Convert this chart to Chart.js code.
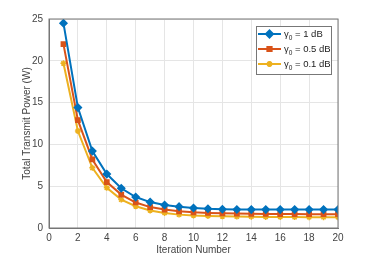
<!DOCTYPE html>
<html>
<head>
<meta charset="utf-8">
<script src="https://cdn.jsdelivr.net/npm/chart.js@4/dist/chart.umd.min.js"></script>
<style>
  html, body { margin: 0; padding: 0; background: #fff; }
  #wrap { width: 374px; height: 256px; }
</style>
</head>
<body>
<div id="wrap"><canvas id="grafico" width="374" height="256"></canvas></div>
<script>
// ==============================
// DADOS
// ==============================
const iteracoes = [1, 2, 3, 4, 5, 6, 7, 8, 9, 10, 11, 12, 13, 14, 15, 16, 17, 18, 19, 20];
const gama1 = [24.5, 14.4, 9.2, 6.45, 4.75, 3.7, 3.1, 2.75, 2.55, 2.4, 2.3, 2.25, 2.22, 2.2, 2.2, 2.2, 2.2, 2.2, 2.2, 2.2];
const gama05 = [22.0, 12.9, 8.2, 5.5, 4.0, 3.05, 2.5, 2.2, 2.0, 1.88, 1.8, 1.75, 1.72, 1.7, 1.68, 1.67, 1.66, 1.65, 1.65, 1.65];
const gama01 = [19.7, 11.6, 7.2, 4.8, 3.4, 2.6, 2.1, 1.8, 1.6, 1.5, 1.45, 1.4, 1.37, 1.35, 1.33, 1.32, 1.31, 1.3, 1.3, 1.3];
const rotulos = ["1 dB", "0.5 dB", "0.1 dB"];
const xTicks = [0, 2, 4, 6, 8, 10, 12, 14, 16, 18, 20];
const yTicks = [0, 5, 10, 15, 20, 25];

const cores = ["#0072BD", "#D95319", "#EDB120"];
const marcadores = ["rectRot", "rect", "star"];
const FONTE = "'Liberation Sans', Arial, sans-serif";

function serie(valores, i) {
  return {
    label: "γ0 = " + rotulos[i],
    data: iteracoes.map((x, k) => ({ x: x, y: valores[k] })),
    borderColor: cores[i],
    backgroundColor: cores[i],
    borderWidth: 2,
    pointStyle: marcadores[i],
    pointRadius: i === 0 ? 3.5 : 3,
    pointBorderWidth: 1.5,
    tension: 0
  };
}

// ==============================
// LEGENDA (com subscrito)
// ==============================
const legendaMatlab = {
  id: "legendaMatlab",
  afterDraw(chart) {
    const ctx = chart.ctx;
    const ca = chart.chartArea;
    const w = 75, h = 48;
    const x0 = ca.right - 7 - w, y0 = ca.top + 7;
    ctx.save();
    ctx.fillStyle = "#fff";
    ctx.fillRect(x0, y0, w, h);
    ctx.strokeStyle = "#777";
    ctx.lineWidth = 1;
    ctx.strokeRect(x0 + 0.5, y0 + 0.5, w, h);
    chart.data.datasets.forEach((ds, i) => {
      const y = y0 + 8 + i * 15;
      ctx.strokeStyle = ds.borderColor;
      ctx.lineWidth = 2;
      ctx.beginPath();
      ctx.moveTo(x0 + 2, y);
      ctx.lineTo(x0 + 25, y);
      ctx.stroke();
      Chart.helpers.drawPoint(ctx, {
        pointStyle: ds.pointStyle, radius: ds.pointRadius, borderWidth: 1.5
      }, x0 + 13.5, y);
      ctx.fillStyle = ds.borderColor;
      ctx.fill();
      ctx.fillStyle = "#222";
      ctx.textBaseline = "middle";
      ctx.font = "9.5px " + FONTE;
      ctx.fillText("γ", x0 + 28, y);
      let tx = x0 + 28 + ctx.measureText("γ").width;
      ctx.font = "6.5px " + FONTE;
      ctx.fillText("0", tx, y + 4);
      tx += ctx.measureText("0").width;
      ctx.font = "9.5px " + FONTE;
      ctx.fillText(" = " + rotulos[i], tx, y);
    });
    ctx.restore();
  }
};

// ==============================
// GRÁFICO
// ==============================
new Chart(document.getElementById("grafico"), {
  type: "line",
  data: {
    datasets: [serie(gama1, 0), serie(gama05, 1), serie(gama01, 2)]
  },
  options: {
    responsive: false,
    animation: false,
    layout: { padding: { top: 19, right: 36, left: 0, bottom: 0 } },
    plugins: { legend: { display: false }, tooltip: { enabled: false } },
    scales: {
      x: {
        type: "linear",
        min: 0, max: 20,
        afterBuildTicks: s => { s.ticks = xTicks.map(v => ({ value: v })); },
        afterFit: s => { s.height = 28; },
        border: { color: "#777", width: 1 },
        grid: { color: "#e5e5e5", drawTicks: false },
        ticks: { color: "#444", font: { family: FONTE, size: 10 }, padding: 4 },
        title: { display: true, text: "Iteration Number", color: "#444",
                 font: { family: FONTE, size: 10 }, padding: { top: 0, bottom: 0 } }
      },
      y: {
        min: 0, max: 25,
        afterBuildTicks: s => { s.ticks = yTicks.map(v => ({ value: v })); },
        afterFit: s => { s.width = 49; },
        border: { color: "#777", width: 1 },
        grid: { color: "#e5e5e5", drawTicks: false },
        ticks: { color: "#444", font: { family: FONTE, size: 10 }, padding: 6 },
        title: { display: true, text: "Total Transmit Power (W)", color: "#444",
                 font: { family: FONTE, size: 10 }, padding: { top: 21, bottom: 0 } }
      }
    }
  },
  plugins: [legendaMatlab, {
    id: "moldura",
    afterDatasetsDraw(chart) {
      const ctx = chart.ctx, ca = chart.chartArea;
      ctx.save();
      ctx.strokeStyle = "#777";
      ctx.lineWidth = 1;
      ctx.strokeRect(ca.left, ca.top, ca.right - ca.left, ca.bottom - ca.top);
      ctx.restore();
    }
  }]
});
</script>
</body>
</html>
